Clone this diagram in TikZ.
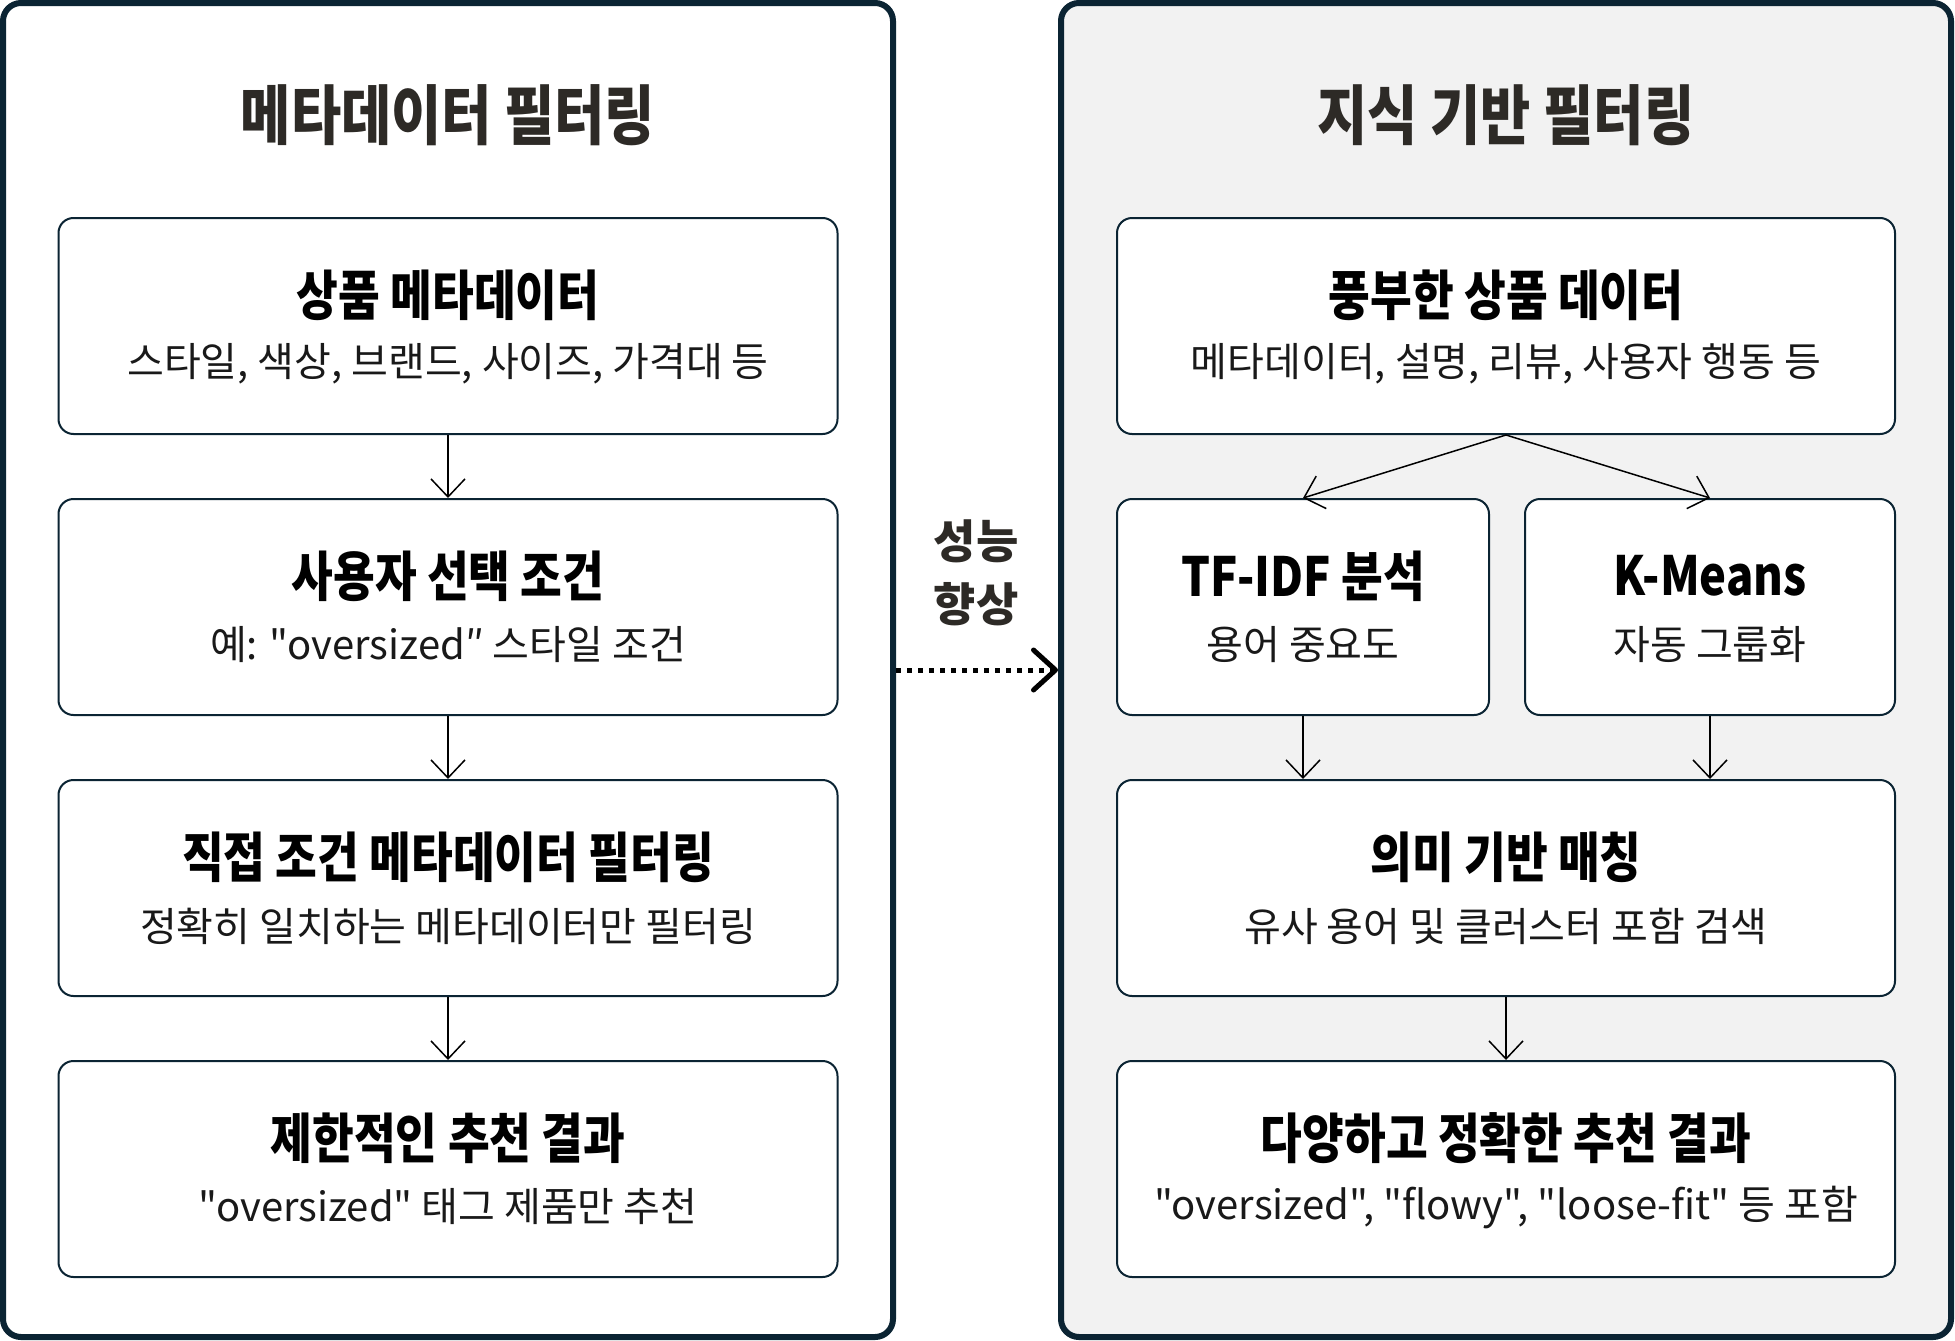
\documentclass[tikz,border=0pt]{standalone}
\usepackage{fontspec}
\setmainfont{Noto Sans CJK KR}[Ligatures=TeXOff]
\newfontfamily\headfont[FakeStretch=0.84,Ligatures=TeXOff]{Noto Sans CJK KR}
\usetikzlibrary{arrows.meta,positioning}
\definecolor{panelline}{HTML}{0B2433}
\definecolor{headtext}{HTML}{2D2A26}
\definecolor{panelgray}{HTML}{F2F2F2}

\begin{document}
\begin{tikzpicture}[x=1pt,y=-1pt,
    panel/.style={draw=panelline,line width=6pt,rounded corners=18pt,
        minimum width=890pt,minimum height=1334pt,inner sep=0pt},
    paneltitle/.style={text=headtext,font=\headfont\bfseries\fontsize{65}{72}\selectfont},
    stepbox/.style={draw=panelline,line width=2pt,fill=white,rounded corners=15pt,
        minimum height=216pt,inner sep=0pt},
    boxtitle/.style={text=black,font=\headfont\bfseries\fontsize{54}{60}\selectfont},
    boxtext/.style={text=black!90,font=\fontsize{40}{48}\selectfont},
    flow/.style={-{Straight Barb[length=18pt,width=34pt]},line width=1.5pt},
    gain/.style={line width=5pt,dash pattern=on 5pt off 6pt,
        -{Straight Barb[length=22pt,width=40pt,round]}}
    ]
    \useasboundingbox (0,0) rectangle (1955,1341);

    % two panels
    \node[panel,fill=white] (meta) at (448,670) {};
    \node[panel,fill=panelgray] (know) at (1506,670) {};
    \node[paneltitle] (metatitle) at (448,115) {메타데이터 필터링};
    \node[paneltitle] (knowtitle) at (1506,115) {지식 기반 필터링};

    % left side
    \node[stepbox,minimum width=779pt] (item) at (448,326) {};
    \node[boxtitle] at ([yshift=31pt]item.center) {상품 메타데이터};
    \node[boxtext] at ([yshift=-38pt]item.center) {스타일, 색상, 브랜드, 사이즈, 가격대 등};

    \node[stepbox,minimum width=779pt] (cond) at (448,607) {};
    \node[boxtitle] at ([yshift=31pt]cond.center) {사용자 선택 조건};
    \node[boxtext] at ([yshift=-38pt]cond.center) {예: "oversized″ 스타일 조건};

    \node[stepbox,minimum width=779pt] (direct) at (448,888) {};
    \node[boxtitle] at ([yshift=31pt]direct.center) {직접 조건 메타데이터 필터링};
    \node[boxtext] at ([yshift=-38pt]direct.center) {정확히 일치하는 메타데이터만 필터링};

    \node[stepbox,minimum width=779pt] (narrow) at (448,1169) {};
    \node[boxtitle] at ([yshift=31pt]narrow.center) {제한적인 추천 결과};
    \node[boxtext] at ([yshift=-38pt]narrow.center) {"oversized" 태그 제품만 추천};

    \draw[flow] (item.south) -- (cond.north);
    \draw[flow] (cond.south) -- (direct.north);
    \draw[flow] (direct.south) -- (narrow.north);

    % right side
    \node[stepbox,minimum width=778pt] (rich) at (1506,326) {};
    \node[boxtitle] at ([yshift=31pt]rich.center) {풍부한 상품 데이터};
    \node[boxtext] at ([yshift=-38pt]rich.center) {메타데이터, 설명, 리뷰, 사용자 행동 등};

    \node[stepbox,minimum width=372pt] (tfidf) at (1303,607) {};
    \node[boxtitle] at ([yshift=31pt]tfidf.center) {TF-IDF 분석};
    \node[boxtext] at ([yshift=-38pt]tfidf.center) {용어 중요도};

    \node[stepbox,minimum width=370pt] (kmeans) at (1710,607) {};
    \node[boxtitle] at ([yshift=31pt]kmeans.center) {K-Means};
    \node[boxtext] at ([yshift=-38pt]kmeans.center) {자동 그룹화};

    \node[stepbox,minimum width=778pt] (match) at (1506,888) {};
    \node[boxtitle] at ([yshift=31pt]match.center) {의미 기반 매칭};
    \node[boxtext] at ([yshift=-38pt]match.center) {유사 용어 및 클러스터 포함 검색};

    \node[stepbox,minimum width=778pt] (wide) at (1506,1169) {};
    \node[boxtitle] at ([yshift=31pt]wide.center) {다양하고 정확한 추천 결과};
    \node[boxtext] at ([yshift=-38pt]wide.center) {"oversized", "flowy", "loose-fit" 등 포함};

    \draw[flow] (rich.south) -- (tfidf.north);
    \draw[flow] (rich.south) -- (kmeans.north);
    \draw[flow] (tfidf.south) -- (tfidf.south |- match.north);
    \draw[flow] (kmeans.south) -- (kmeans.south |- match.north);
    \draw[flow] (match.south) -- (wide.north);

    % between the panels
    \draw[gain] (meta.east) -- (know.west);
    \node[text=headtext,align=center,font=\bfseries\fontsize{46}{63}\selectfont]
        (gainlabel) at (976,573) {성능\\향상};
\end{tikzpicture}
\end{document}
